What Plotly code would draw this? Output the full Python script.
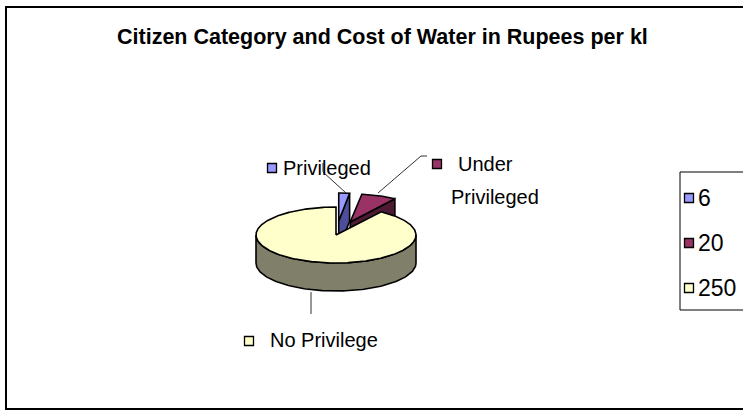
import numpy as np
import plotly.graph_objects as go

# ---- data ----
categories = ["Privileged", "Under Privileged", "No Privilege"]
costs = [6, 20, 250]
legend_labels = ["6", "20", "250"]
title_text = "Citizen Category and Cost of Water in Rupees per kl"

# ---- style ----
top_colors = ["#9999FF", "#993366", "#FFFFCC"]
side_colors = ["#4D4D99", "#4D1A33", "#80806A"]
explode = [0.5, 0.5, 0.0]
W, H = 743, 411
cx, cy, a, b, h = 336, 235, 80, 28, 28
FONT = "Liberation Sans, Arial, sans-serif"

fig = go.Figure()

total = float(sum(costs))
ends = np.cumsum(costs) / total * 360.0
starts = np.concatenate([[0.0], ends[:-1]])


def pt(theta_deg, dx, dy, z):
    t = np.radians(theta_deg)
    return cx + dx + a * np.sin(t), cy + dy - b * np.cos(t) + z


def poly(xs, ys, color):
    fig.add_trace(go.Scatter(x=list(xs) + [xs[0]], y=list(ys) + [ys[0]], mode="lines",
                             fill="toself", fillcolor=color,
                             line=dict(color="black", width=1.6),
                             hoverinfo="skip", showlegend=False))


def draw_slice(i):
    s, e = starts[i], ends[i]
    m = np.radians((s + e) / 2)
    dx = explode[i] * a * np.sin(m)
    dy = -explode[i] * b * np.cos(m)
    ccx, ccy = cx + dx, cy + dy
    # cut faces
    for th, vis in ((s, np.sin(np.radians(s)) < -1e-9), (e, np.sin(np.radians(e)) > 1e-9)):
        if vis:
            x1, y1 = pt(th, dx, dy, 0)
            x2, y2 = pt(th, dx, dy, h)
            poly([ccx, x1, x2, ccx], [ccy, y1, y2, ccy + h], side_colors[i])
    # outer wall (front part)
    lo, hi = max(s, 90.0), min(e, 270.0)
    if hi > lo:
        th = np.linspace(lo, hi, 120)
        xt, yt = pt(th, dx, dy, 0)
        xb, yb = pt(th[::-1], dx, dy, h)
        poly(np.concatenate([xt, xb]), np.concatenate([yt, yb]), side_colors[i])
    # top face
    th = np.linspace(s, e, max(int(e - s) * 2, 12))
    xt, yt = pt(th, dx, dy, 0)
    poly(np.concatenate([[ccx], xt]), np.concatenate([[ccy], yt]), top_colors[i])


for i in [0, 1, 2]:
    draw_slice(i)

# leader lines
lines = [
    ([323, 323, 346], [163, 172, 193]),
    ([427, 421, 378], [156, 156, 193]),
    ([311, 311], [292, 314]),
]
for lx, ly in lines:
    fig.add_trace(go.Scatter(x=lx, y=ly, mode="lines", line=dict(color="#333333", width=1),
                             hoverinfo="skip", showlegend=False))

# data label keys
key_pos = [(272, 168), (437, 164), (249, 341)]
fig.add_trace(go.Scatter(x=[p[0] for p in key_pos], y=[p[1] for p in key_pos], mode="markers",
                         marker=dict(symbol="square", size=9, color=top_colors,
                                     line=dict(color="black", width=1.3)),
                         hoverinfo="skip", showlegend=False))

LBL = 20
ann = []
ann.append(dict(x=281, y=168, text=categories[0], xanchor="left", size=LBL))
u1, u2 = categories[1].split(" ")
ann.append(dict(x=485, y=164, text=u1, xanchor="center", size=LBL))
ann.append(dict(x=495, y=197, text=u2, xanchor="center", size=LBL))
ann.append(dict(x=268, y=340, text=categories[2], xanchor="left", size=LBL))

# legend (manual)
leg_y = [198, 243, 288]
fig.add_trace(go.Scatter(x=[689] * 3, y=leg_y, mode="markers",
                         marker=dict(symbol="square", size=9, color=top_colors,
                                     line=dict(color="black", width=1.3)),
                         hoverinfo="skip", showlegend=False))
for lbl, yy in zip(legend_labels, leg_y):
    ann.append(dict(x=696, y=yy, text=lbl, xanchor="left", size=23))

annotations = []
for d in ann:
    sz = d.pop("size")
    annotations.append(dict(xref="x", yref="y", showarrow=False, yanchor="middle",
                            font=dict(family=FONT, size=sz, color="black"), **d))
annotations.append(dict(xref="x", yref="y", x=382, y=37, text="<b>" + title_text + "</b>",
                        showarrow=False, xanchor="center", yanchor="middle",
                        font=dict(family=FONT, size=21.5, color="black")))

shapes = [
    dict(type="rect", xref="x", yref="y", x0=6, y0=7, x1=750, y1=409,
         line=dict(color="black", width=2), fillcolor="rgba(0,0,0,0)", layer="below"),
    dict(type="rect", xref="x", yref="y", x0=680, y0=172, x1=760, y1=310,
         line=dict(color="black", width=1), fillcolor="white", layer="below"),
]

fig.update_layout(
    width=W, height=H, margin=dict(l=0, r=0, t=0, b=0),
    paper_bgcolor="white", plot_bgcolor="white",
    xaxis=dict(range=[0, W], visible=False, fixedrange=True),
    yaxis=dict(range=[H, 0], visible=False, fixedrange=True),
    showlegend=False, annotations=annotations, shapes=shapes,
)

fig.write_html("out.html")
